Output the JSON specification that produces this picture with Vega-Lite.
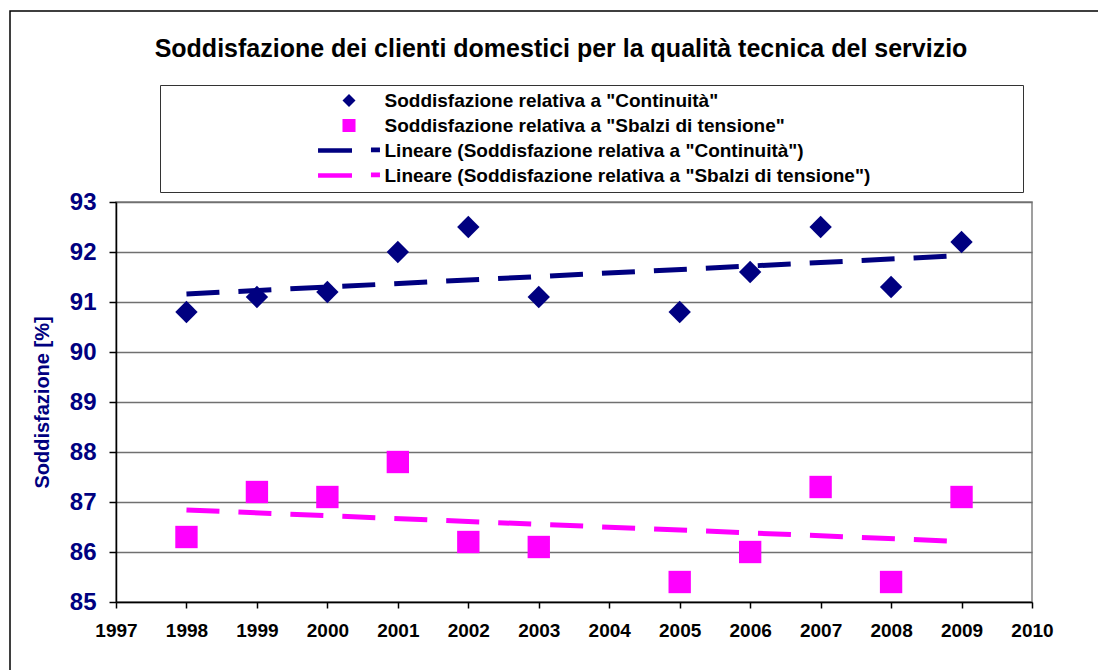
{
  "$schema": "https://vega.github.io/schema/vega-lite/v6.json",
  "width": 916,
  "height": 400,
  "autosize": {"type": "none"},
  "padding": {"left": 116, "top": 202, "right": 66, "bottom": 68},
  "background": "white",
  "config": {
    "view": {"stroke": "#808080", "strokeWidth": 1.5},
    "font": "Liberation Sans"
  },
  "title": {
    "text": "Soddisfazione dei clienti domestici per la qualità tecnica del servizio",
    "anchor": "middle",
    "frame": "group",
    "dx": -13,
    "offset": -72,
    "baseline": "alphabetic",
    "font": "Liberation Sans",
    "fontSize": 25,
    "fontWeight": "bold",
    "color": "black"
  },
  "datasets": {
    "punti": [
      {"serie": "Soddisfazione relativa a \"Continuità\"", "anno": 1998, "valore": 90.8},
      {"serie": "Soddisfazione relativa a \"Continuità\"", "anno": 1999, "valore": 91.1},
      {"serie": "Soddisfazione relativa a \"Continuità\"", "anno": 2000, "valore": 91.2},
      {"serie": "Soddisfazione relativa a \"Continuità\"", "anno": 2001, "valore": 92.0},
      {"serie": "Soddisfazione relativa a \"Continuità\"", "anno": 2002, "valore": 92.5},
      {"serie": "Soddisfazione relativa a \"Continuità\"", "anno": 2003, "valore": 91.1},
      {"serie": "Soddisfazione relativa a \"Continuità\"", "anno": 2005, "valore": 90.8},
      {"serie": "Soddisfazione relativa a \"Continuità\"", "anno": 2006, "valore": 91.6},
      {"serie": "Soddisfazione relativa a \"Continuità\"", "anno": 2007, "valore": 92.5},
      {"serie": "Soddisfazione relativa a \"Continuità\"", "anno": 2008, "valore": 91.3},
      {"serie": "Soddisfazione relativa a \"Continuità\"", "anno": 2009, "valore": 92.2},
      {"serie": "Soddisfazione relativa a \"Sbalzi di tensione\"", "anno": 1998, "valore": 86.3},
      {"serie": "Soddisfazione relativa a \"Sbalzi di tensione\"", "anno": 1999, "valore": 87.2},
      {"serie": "Soddisfazione relativa a \"Sbalzi di tensione\"", "anno": 2000, "valore": 87.1},
      {"serie": "Soddisfazione relativa a \"Sbalzi di tensione\"", "anno": 2001, "valore": 87.8},
      {"serie": "Soddisfazione relativa a \"Sbalzi di tensione\"", "anno": 2002, "valore": 86.2},
      {"serie": "Soddisfazione relativa a \"Sbalzi di tensione\"", "anno": 2003, "valore": 86.1},
      {"serie": "Soddisfazione relativa a \"Sbalzi di tensione\"", "anno": 2005, "valore": 85.4},
      {"serie": "Soddisfazione relativa a \"Sbalzi di tensione\"", "anno": 2006, "valore": 86.0},
      {"serie": "Soddisfazione relativa a \"Sbalzi di tensione\"", "anno": 2007, "valore": 87.3},
      {"serie": "Soddisfazione relativa a \"Sbalzi di tensione\"", "anno": 2008, "valore": 85.4},
      {"serie": "Soddisfazione relativa a \"Sbalzi di tensione\"", "anno": 2009, "valore": 87.1}
    ],
    "tendenze": [
      {"serie": "Lineare (Soddisfazione relativa a \"Continuità\")", "anno": 1998, "valore": 91.16},
      {"serie": "Lineare (Soddisfazione relativa a \"Continuità\")", "anno": 2009, "valore": 91.93},
      {"serie": "Lineare (Soddisfazione relativa a \"Sbalzi di tensione\")", "anno": 1998, "valore": 86.84},
      {"serie": "Lineare (Soddisfazione relativa a \"Sbalzi di tensione\")", "anno": 2009, "valore": 86.21}
    ]
  },
  "layer": [
    {
      "data": {"name": "tendenze"},
      "mark": {"type": "line", "strokeWidth": 5, "strokeDash": [33, 19], "strokeCap": "butt"},
      "encoding": {
        "x": {
          "field": "anno", "type": "quantitative",
          "scale": {"domain": [1997, 2010], "nice": false, "zero": false},
          "axis": {
            "title": null,
            "values": [1997, 1998, 1999, 2000, 2001, 2002, 2003, 2004, 2005, 2006, 2007, 2008, 2009, 2010],
            "format": "d",
            "grid": false,
            "labelFlush": false,
            "labelOverlap": false,
            "labelFont": "Liberation Sans",
            "labelFontSize": 19,
            "labelFontWeight": "bold",
            "labelColor": "black",
            "labelPadding": 13,
            "tickColor": "black",
            "tickSize": 6,
            "tickWidth": 1.5,
            "domainColor": "black",
            "domainWidth": 1.5
          }
        },
        "y": {
          "field": "valore", "type": "quantitative",
          "scale": {"domain": [85, 93], "nice": false, "zero": false},
          "axis": {
            "title": "Soddisfazione [%]",
            "titleFont": "Liberation Sans",
            "titleFontSize": 20,
            "titleFontWeight": "bold",
            "titleColor": "#000080",
            "titlePadding": 17,
            "values": [85, 86, 87, 88, 89, 90, 91, 92, 93],
            "grid": true,
            "gridColor": "#707070",
            "gridWidth": 1.5,
            "labelFont": "Liberation Sans",
            "labelFontSize": 24,
            "labelFontWeight": "bold",
            "labelColor": "#000080",
            "labelPadding": 13,
            "tickColor": "black",
            "tickSize": 7,
            "tickWidth": 1.5,
            "domainColor": "black",
            "domainWidth": 1.5
          }
        },
        "stroke": {
          "field": "serie", "type": "nominal",
          "scale": {
            "domain": ["Lineare (Soddisfazione relativa a \"Continuità\")", "Lineare (Soddisfazione relativa a \"Sbalzi di tensione\")"],
            "range": ["#000080", "#FF00FF"]
          },
          "legend": {
            "orient": "none",
            "legendX": -106,
            "legendY": -191,
            "title": null,
            "padding": 0,
            "strokeColor": "black",
            "symbolType": "M-1,-1 M240,140",
            "symbolSize": 100,
            "symbolOpacity": 0,
            "labelOpacity": 0,
            "encode": {
              "legend": {"update": {"strokeWidth": {"value": 1.5}}},
              "labels": {"update": {"text": {"value": ""}}}
            }
          }
        }
      }
    },
    {
      "data": {"name": "punti"},
      "mark": {"type": "point", "filled": true, "opacity": 1, "size": 500, "strokeWidth": 0},
      "encoding": {
        "x": {"field": "anno", "type": "quantitative"},
        "y": {"field": "valore", "type": "quantitative"},
        "color": {
          "field": "serie", "type": "nominal",
          "scale": {
            "domain": [
              "Soddisfazione relativa a \"Continuità\"",
              "Soddisfazione relativa a \"Sbalzi di tensione\"",
              "Lineare (Soddisfazione relativa a \"Continuità\")",
              "Lineare (Soddisfazione relativa a \"Sbalzi di tensione\")"
            ],
            "range": ["#000080", "#FF00FF", "#000080", "#FF00FF"]
          },
          "legend": {
            "orient": "none",
            "legendX": 44,
            "legendY": -117,
            "title": null,
            "padding": 6,
            "strokeColor": "#333333",
            "fillColor": "white",
            "labelFont": "Liberation Sans",
            "labelFontSize": 19,
            "labelFontWeight": "bold",
            "labelColor": "black",
            "labelLimit": 0,
            "symbolSize": 170,
            "symbolOffset": 173.5,
            "labelOffset": 26,
            "rowPadding": 5,
            "symbolStrokeWidth": 0,
            "symbolOpacity": 1
          }
        },
        "shape": {
          "field": "serie", "type": "nominal",
          "scale": {
            "domain": [
              "Soddisfazione relativa a \"Continuità\"",
              "Soddisfazione relativa a \"Sbalzi di tensione\"",
              "Lineare (Soddisfazione relativa a \"Continuità\")",
              "Lineare (Soddisfazione relativa a \"Sbalzi di tensione\")"
            ],
            "range": [
              "diamond",
              "square",
              "M-4.75,-0.35H0.46V0.35H-4.75Z M3.37,-0.45H4.75V0.25H3.37Z M102.4,0",
              "M-4.75,-0.35H0.46V0.35H-4.75Z M3.37,-0.45H4.75V0.25H3.37Z M102.4,0"
            ]
          },
          "legend": {
            "orient": "none",
            "legendX": 44,
            "legendY": -117,
            "title": null,
            "padding": 6,
            "strokeColor": "#333333",
            "fillColor": "white",
            "labelFont": "Liberation Sans",
            "labelFontSize": 19,
            "labelFontWeight": "bold",
            "labelColor": "black",
            "labelLimit": 0,
            "symbolSize": 170,
            "symbolOffset": 173.5,
            "labelOffset": 26,
            "rowPadding": 5,
            "symbolStrokeWidth": 0,
            "symbolOpacity": 1
          }
        }
      }
    }
  ]
}
